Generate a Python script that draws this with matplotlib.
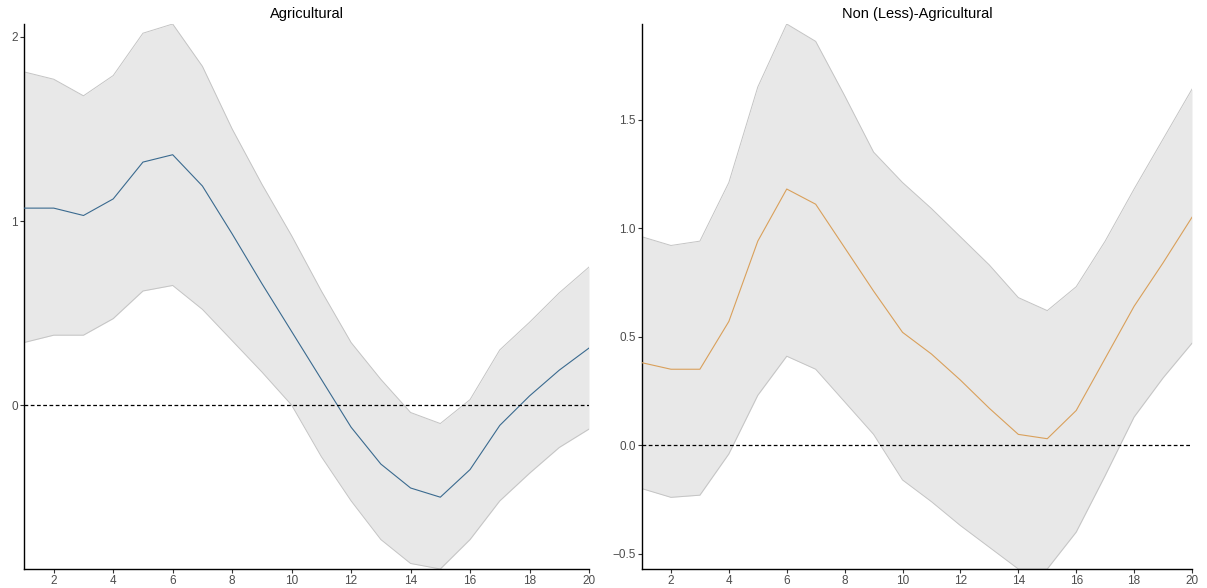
import numpy as np
import matplotlib
matplotlib.use("Agg")
import matplotlib.pyplot as plt

plt.rcParams['font.family'] = ['Liberation Sans', 'DejaVu Sans']

# ---------------------------------------------------------------------------
# Data (horizons 1..20)
# ---------------------------------------------------------------------------
horizon = list(range(1, 21))

agri_mid = [1.07, 1.07, 1.03, 1.12, 1.32, 1.36, 1.19, 0.93, 0.66, 0.40,
            0.14, -0.12, -0.32, -0.45, -0.50, -0.35, -0.11, 0.05, 0.19, 0.31]
agri_up = [1.81, 1.77, 1.68, 1.79, 2.02, 2.07, 1.84, 1.50, 1.20, 0.92,
           0.62, 0.34, 0.14, -0.04, -0.10, 0.03, 0.30, 0.45, 0.61, 0.75]
agri_lo = [0.34, 0.38, 0.38, 0.47, 0.62, 0.65, 0.52, 0.35, 0.18, 0.00,
           -0.28, -0.52, -0.73, -0.86, -0.89, -0.73, -0.52, -0.37, -0.23, -0.13]

nonagri_mid = [0.38, 0.35, 0.35, 0.57, 0.94, 1.18, 1.11, 0.91, 0.71, 0.52,
               0.42, 0.30, 0.17, 0.05, 0.03, 0.16, 0.40, 0.64, 0.84, 1.05]
nonagri_up = [0.96, 0.92, 0.94, 1.21, 1.65, 1.94, 1.86, 1.61, 1.35, 1.21,
              1.09, 0.96, 0.83, 0.68, 0.62, 0.73, 0.94, 1.18, 1.41, 1.64]
nonagri_lo = [-0.20, -0.24, -0.23, -0.04, 0.23, 0.41, 0.35, 0.20, 0.05, -0.16,
              -0.26, -0.37, -0.47, -0.57, -0.57, -0.40, -0.14, 0.13, 0.31, 0.47]

x_ticks = [2, 4, 6, 8, 10, 12, 14, 16, 18, 20]

# ---------------------------------------------------------------------------
# Figure
# ---------------------------------------------------------------------------
W, H = 1207, 588
fig = plt.figure(figsize=(W / 100, H / 100), dpi=100)

ax_l = fig.add_axes([24 / W, 1 - 569 / H, 565 / W, 545 / H])
ax_r = fig.add_axes([642 / W, 1 - 569 / H, 550 / W, 545 / H])


def panel(ax, mid, lo, up, color, title, yticks, ylabels):
    ax.fill_between(horizon, lo, up, color='#e8e8e8', lw=0, zorder=1)
    ax.plot(horizon, up, color='#c4c4c4', lw=0.7, zorder=2)
    ax.plot(horizon, lo, color='#c4c4c4', lw=0.7, zorder=2)
    ax.plot(horizon, mid, color=color, lw=0.8, zorder=3)
    ax.axhline(0, color='black', lw=0.9, ls=(0, (3, 2)), zorder=4)
    ax.set_xlim(1, 20)
    ax.set_ylim(min(lo), max(up))
    ax.set_xticks(x_ticks)
    ax.set_yticks(yticks)
    ax.set_yticklabels(ylabels)
    for s in ['top', 'right']:
        ax.spines[s].set_visible(False)
    for s in ['left', 'bottom']:
        ax.spines[s].set_linewidth(1.0)
        ax.spines[s].set_color('black')
    ax.tick_params(length=3, width=0.8, color='#333333', labelsize=8.5,
                   labelcolor='#4d4d4d', pad=1.5)
    ax.set_title(title, fontsize=10.5, pad=4, color='black')


panel(ax_l, agri_mid, agri_lo, agri_up, '#3a6a8f', 'Agricultural',
      [0, 1, 2], ['0', '1', '2'])
panel(ax_r, nonagri_mid, nonagri_lo, nonagri_up, '#d9a05b',
      'Non (Less)-Agricultural',
      [-0.5, 0.0, 0.5, 1.0, 1.5], ['\u22120.5', '0.0', '0.5', '1.0', '1.5'])

fig.savefig('out.png', dpi=100)
